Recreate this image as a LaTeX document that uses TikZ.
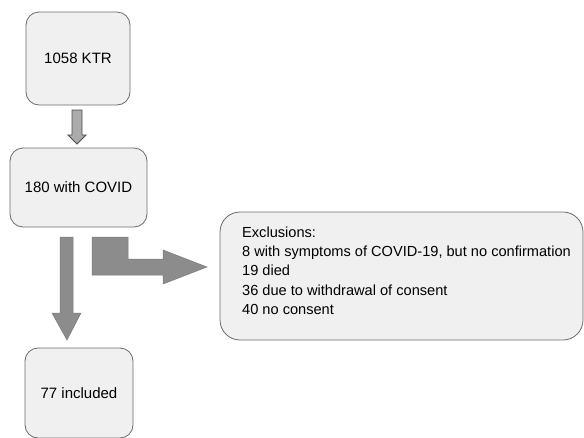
\documentclass[tikz,border=0pt]{standalone}
\usepackage{fontspec}
\setmainfont{Liberation Sans}
\usepackage{tikz}
\usetikzlibrary{positioning}

\tikzset{
  box/.style = {draw=black!58, fill=black!6, rounded corners=13pt, line width=0.8pt,
                font=\fontsize{15}{19.3}\selectfont, align=center},
  smallarrow/.style = {draw=black!70, fill=black!33, line width=0.8pt},
  bigarrow/.style = {draw=black!52, fill=black!45, line width=0.5pt}
}

\begin{document}
\begin{tikzpicture}[x=1pt, y=-1pt]
 \useasboundingbox (0,0) rectangle (584,437);
 % boxes
 \node [box, minimum width=104pt, minimum height=93pt] (ktr) at (78,58.5) {1058 KTR};
 \node [box, minimum width=137pt, minimum height=79pt] (covid) at (78.5,187.5) {180 with COVID};
 \node [box, minimum width=363pt, minimum height=128pt, rounded corners=20pt,
        font=\fontsize{14.6}{19.3}\selectfont, inner xsep=2pt] (excl) at (401.5,276)
   {\begin{tabular}{@{\hspace{10pt}}l@{}}
    Exclusions:\\
    8 with symptoms of COVID-19, but no confirmation\\
    19 died\\
    36 due to withdrawal of consent\\
    40 no consent\\[8pt]
    \end{tabular}};
 \node [box, minimum width=108pt, minimum height=90pt] (incl) at (79,393) {77 included};
 % arrows
 \draw [smallarrow] (72,110) -- (82,110) -- (82,135) -- (86,135) -- (77,144)
   -- (68,135) -- (72,135) -- cycle;
 \draw [bigarrow] (60,237) -- (73,237) -- (73,313) -- (81,313) -- (67,340)
   -- (52,313) -- (60,313) -- cycle;
 \draw [bigarrow] (92,237) -- (128,237) -- (128,259) -- (163,259) -- (163,250)
   -- (207,267) -- (163,284) -- (163,275) -- (92,275) -- cycle;
\end{tikzpicture}
\end{document}
